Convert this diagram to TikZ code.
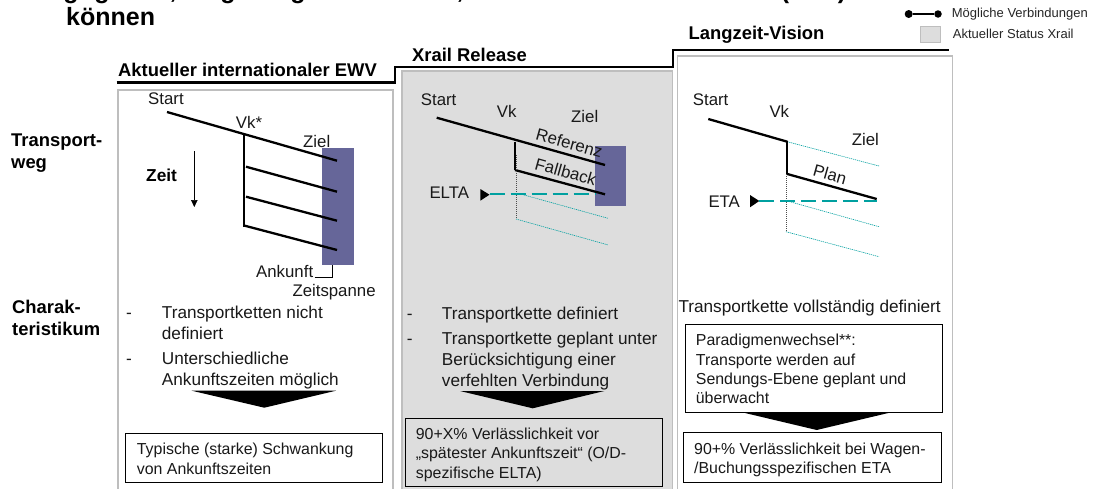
\documentclass[tikz,border=0pt]{standalone}
\usepackage{fontspec}
\setmainfont{Liberation Sans}
\usetikzlibrary{arrows.meta}
\definecolor{panelline}{HTML}{BEBEBE}
\definecolor{panelgrey}{HTML}{DDDDDD}
\definecolor{dest}{HTML}{666699}
\definecolor{tealc}{HTML}{00A0A0}
\begin{document}
\begin{tikzpicture}[x=1pt,y=-1pt,
 titlefont/.style={inner sep=0pt,font=\bfseries\fontsize{25}{28}\selectfont},
 txt/.style={inner sep=0pt,anchor=west,font=\fontsize{16.8}{20}\selectfont,text=black!90},
 boldtxt/.style={inner sep=0pt,anchor=west,font=\bfseries\fontsize{17.3}{20}\selectfont},
 head/.style={inner sep=0pt,anchor=west,font=\bfseries\fontsize{18.4}{22}\selectfont},
 side/.style={inner sep=0pt,anchor=north west,align=left,font=\bfseries\fontsize{18.4}{22}\selectfont},
 para/.style={inner sep=0pt,anchor=north west,align=left,font=\fontsize{17.2}{21}\selectfont,text=black!90},
 bulletmark/.style={inner sep=0pt,anchor=west,font=\fontsize{17.2}{21}\selectfont,text=black!90},
 small/.style={inner sep=0pt,anchor=north west,align=left,font=\fontsize{15.9}{19.4}\selectfont,text=black!90},
 leg/.style={inner sep=0pt,anchor=west,font=\fontsize{13}{15}\selectfont,text=black!85},
 panel/.style={draw=panelline,line width=1.6pt},
 route/.style={line width=2.3pt},
 stair/.style={line width=2.2pt},
 thinteal/.style={draw=tealc,line width=.6pt,dash pattern=on 1.2pt off .8pt},
 tealdash/.style={draw=tealc,line width=1.6pt,dash pattern=on 15pt off 6pt},
 dotv/.style={draw=black!70,line width=.8pt,dash pattern=on 1pt off 1pt},
 box/.style={draw=black,line width=.7pt},
 destbox/.style={fill=dest,draw=none},
 funnel/.style={fill=black,draw=none},
 marker/.style={fill=black,draw=none}]
\useasboundingbox (0,0) rectangle (1095,488);
\fill[white] (0,0) rectangle (1095,488);
\begin{scope}
\clip (0,0) rectangle (1095,488);
% title: only the lower edges of the first line are visible in the reference
\foreach \gx/\gc in {71/g,102/g,173/{,},228/g,298/g,460/{,},785/(,842/)}
  \node[titlefont,anchor=base] at (\gx,-2) {\gc};
\node[titlefont,anchor=base west] (t2) at (66,25) {können};
% panels
\draw[panel] (117.7,90) rectangle (392.7,495);
\draw[panel,fill=panelgrey] (401.7,71) rectangle (672.3,495);
\draw[panel] (677.3,55.7) rectangle (952.3,495);
% staircase
\coordinate (s0) at (116.7,82.5); \coordinate (s1) at (395,82.5); \coordinate (s2) at (395,66.7);
\coordinate (s3) at (672.7,66.7); \coordinate (s4) at (672.7,50); \coordinate (s5) at (949.3,50);
\draw[stair] (s0)--(s1)--(s2)--(s3)--(s4)--(s5);
\node[head] (h1) at (118,70) {Aktueller internationaler EWV};
\node[head] (h2) at (412,54.5) {Xrail Release};
\node[head] (h3) at (688.5,35) {Langzeit-Vision};
% side labels
\node[side] (l1) at (11,134) {Transport-\\weg};
\node[side] (l2) at (12,300) {Charak-\\teristikum};

% ---- panel 1 ----
\node[destbox,minimum width=32pt,minimum height=117pt,inner sep=0pt,anchor=north west] (d1) at (322,148) {};
\node[txt] (a1) at (148,99) {Start};
\node[txt] (a2) at (235.7,122) {Vk*};
\node[txt] (a3) at (303,141) {Ziel};
\node[boldtxt] (a4) at (146,175.7) {Zeit};
\coordinate (z1) at (194.3,151); \coordinate (z2) at (194.3,207);
\draw[line width=.6pt,-{Triangle[length=7pt,width=6.5pt]}] (z1)--(z2);
\coordinate (p1) at (167,112); \coordinate (p2) at (337,160.7); \coordinate (v1) at (244,134); \coordinate (v2) at (244,226.7);
\draw[route] (p1)--(p2);
\draw[route] (v1)--(v2);
\draw[route] (246,166.7)--(337,191.7);
\draw[route] (246,196.7)--(337,220.7);
\draw[route] (244,225.5)--(337,250);
\node[txt] (a5) at (256,271.7) {Ankunft};
\coordinate (b1) at (314.5,277); \coordinate (b2) at (332.3,277); \coordinate (b3) at (332.3,265);
\draw[line width=.6pt] (b1)--(b2)--(b3);
\node[txt] (a6) at (292.3,292.3) {Zeitspanne};
\node[bulletmark] (a7) at (126,316) {-};
\node[para] (a8) at (161.7,305.5) {Transportketten nicht\\definiert};
\node[bulletmark] (a9) at (126,362) {-};
\node[para] (a10) at (161.7,351.5) {Unterschiedliche\\Ankunftszeiten möglich};
\fill[funnel] (191.7,390.7)--(336,390.7)--(264.3,407.7)--cycle;
\draw[box] (125.3,433.3) rectangle (382.7,482.3);
\node[small] (a11) at (136.7,443) {Typische (starke) Schwankung\\von Ankunftszeiten};

% ---- panel 2 ----
\node[destbox,minimum width=31pt,minimum height=59.7pt,inner sep=0pt,anchor=north west] (d2) at (595,146) {};
\node[txt] (c1) at (420.7,100) {Start};
\node[txt] (c2) at (496.7,111) {Vk};
\node[txt] (c3) at (571,116.7) {Ziel};
\draw[route] (436.7,117.7)--(605,165);
\draw[route] (515,141.7)--(515,170);
\draw[route] (515,170)--(605,194.3);
\draw[dotv] (516,155)--(516,218.3);
\draw[thinteal] (518,193.3)--(608,218.3);
\draw[thinteal] (516,219)--(608.3,245);
\node[txt] (c4) at (429.3,192.3) {ELTA};
\fill[marker] (480.3,189)--(489.5,194.7)--(480.3,200.7)--cycle;
\coordinate (e1) at (489.5,194); \coordinate (e2) at (595,194);
\draw[tealdash] (e1)--(e2);
\node[txt,anchor=center,rotate=-15.7] (c5) at (569.3,143) {Referenz};
\node[txt,anchor=center,rotate=-15.7] (c6) at (565.7,171.7) {Fallback};
\node[bulletmark] (c7) at (406.7,317) {-};
\node[para] (c8) at (441.7,306.5) {Transportkette definiert};
\node[bulletmark] (c9) at (406.7,342) {-};
\node[para] (c10) at (441.7,331.5) {Transportkette geplant unter\\Berücksichtigung einer\\verfehlten Verbindung};
\fill[funnel] (460,391)--(604.3,391)--(532.7,408.3)--cycle;
\draw[box] (405.7,418.3) rectangle (662.7,486.7);
\node[small] (c11) at (415.7,427.5) {90+X\% Verlässlichkeit vor\\„spätester Ankunftszeit“ (O/D-\\spezifische ELTA)};

% ---- panel 3 ----
\node[txt] (e3) at (692.7,100) {Start};
\node[txt] (e4) at (769.3,111) {Vk};
\node[txt] (e5) at (851.7,139.3) {Ziel};
\draw[thinteal] (787.3,141.7)--(879,166);
\draw[thinteal] (787.3,201)--(879,226.7);
\draw[thinteal] (786,231.7)--(879,256.7);
\draw[dotv] (786.3,174)--(786.3,232);
\draw[route] (708.3,119)--(787.3,141.7);
\draw[route] (787.3,141)--(787.3,174);
\draw[route] (787.3,174)--(876.7,199);
\node[txt] (e6) at (708.3,201.7) {ETA};
\fill[marker] (750,195)--(759.3,201)--(750,207.3)--cycle;
\coordinate (e7) at (759.3,200.7); \coordinate (e8) at (877,200.7);
\draw[tealdash] (e7)--(e8);
\node[txt,anchor=center,rotate=-15.7] (e9) at (830,174.3) {Plan};
\node[para,anchor=west] (e10) at (678.3,307.7) {Transportkette vollständig definiert};
\draw[box] (685,324.3) rectangle (942.3,412);
\node[small] (e11) at (695.7,334) {Paradigmenwechsel**:\\Transporte werden auf\\Sendungs-Ebene geplant und\\überwacht};
\fill[funnel] (745,413)--(888.3,413)--(816.7,430)--cycle;
\draw[box] (683.3,432.7) rectangle (941,482.3);
\node[small] (e12) at (694,442.5) {90+\% Verlässlichkeit bei Wagen-\\/Buchungsspezifischen ETA};

% legend
\node[circle,fill=black,inner sep=0pt,minimum size=8pt] (g1) at (908.7,14) {};
\node[circle,fill=black,inner sep=0pt,minimum size=7.5pt] (g2) at (938,14) {};
\draw[line width=2pt] (g1)--(g2);
\node[leg] (g3) at (951.7,13.7) {Mögliche Verbindungen};
\draw[draw=panelline,line width=.8pt,fill=panelgrey] (920,26.7) rectangle (940,42.3);
\node[leg] (g4) at (952.7,34.3) {Aktueller Status Xrail};
\end{scope}
\end{tikzpicture}
\end{document}
